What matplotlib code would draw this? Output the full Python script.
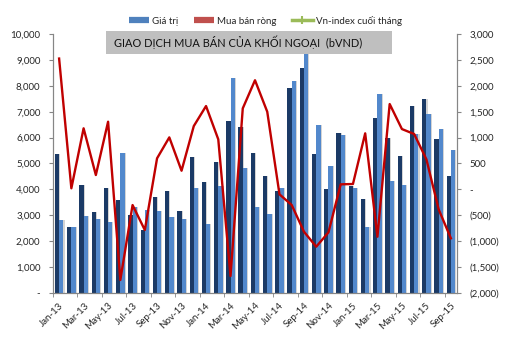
import matplotlib
matplotlib.use('Agg')
import matplotlib.pyplot as plt
import numpy as np
from matplotlib.lines import Line2D
from matplotlib.patches import Rectangle

plt.rcParams['font.family'] = ['Lato', 'Noto Sans', 'DejaVu Sans']

months = ['Jan-13', 'Feb-13', 'Mar-13', 'Apr-13', 'May-13', 'Jun-13', 'Jul-13', 'Aug-13',
          'Sep-13', 'Oct-13', 'Nov-13', 'Dec-13', 'Jan-14', 'Feb-14', 'Mar-14', 'Apr-14',
          'May-14', 'Jun-14', 'Jul-14', 'Aug-14', 'Sep-14', 'Oct-14', 'Nov-14', 'Dec-14',
          'Jan-15', 'Feb-15', 'Mar-15', 'Apr-15', 'May-15', 'Jun-15', 'Jul-15', 'Aug-15',
          'Sep-15']

# buy / sell value (left axis, bVND)
buy = [5370, 2555, 4156, 3111, 4040, 3587, 3007, 2426,
       3715, 3936, 3162, 5252, 4272, 5070, 6657, 6400,
       5406, 4528, 3936, 7910, 8684, 5368, 4013, 6168,
       4110, 3614, 6761, 5998, 5290, 7213, 7496, 5948,
       4516]
sell = [2813, 2555, 2968, 2852, 2724, 5394, 3305, 3200,
        3165, 2942, 2839, 4052, 2658, 4142, 8297, 4838,
        3328, 3034, 4052, 8193, 9290, 6478, 4903, 6103,
        4045, 2555, 7690, 4334, 4168, 6142, 6916, 6335,
        5522]
# net buying (right axis)
net = [2530, 20, 1180, 277, 1308, -1754, -304, -787,
       600, 1005, 360, 1224, 1611, 967, -1677, 1566,
       2110, 1501, -97, -304, -820, -1110, -832, 97,
       103, 1083, -917, 1650, 1166, 1070, 580, -387,
       -948]

x = np.arange(len(months))
w = 0.35

fig = plt.figure(figsize=(5.15, 3.46), dpi=100)
ax = fig.add_axes([0.1029, 0.154, 0.7845, 0.747])
ax2 = ax.twinx()

# shadows
ax.bar(x - w / 2 + 0.09, buy, w, color='#D4D4D4', zorder=1)
ax.bar(x + w / 2 + 0.09, sell, w, color='#D4D4D4', zorder=1)
ax.bar(x - w / 2, buy, w, color='#1B3A66', zorder=2)
ax.bar(x + w / 2, sell, w, color='#5288CC', zorder=2)

ax2.plot(x, net, color='#C00000', lw=1.7, zorder=3)

ax.set_xlim(-0.5, len(months) - 0.5)
ax.set_ylim(0, 10000)
ax2.set_ylim(-2000, 3000)

lt = np.arange(0, 10001, 1000)
ax.set_yticks(lt)
ax.set_yticklabels(['-' if v == 0 else f'{v:,}' for v in lt])
rt = np.arange(-2000, 3001, 500)
ax2.set_yticks(rt)
ax2.set_yticklabels(['-' if v == 0 else (f'({-v:,})' if v < 0 else f'{v:,}') for v in rt])

ax.set_xticks(x[::2])
ax.set_xticklabels(months[::2], rotation=45, ha='right', rotation_mode='anchor')
ax.set_xticks(np.arange(-0.5, len(months), 2), minor=True)
ax.tick_params(axis='x', which='major', length=0, pad=6)
ax.tick_params(axis='x', which='minor', length=3, color='#868686')

for a in (ax, ax2):
    a.tick_params(axis='y', length=3, color='#868686', labelsize=7, labelcolor='#262626')
    a.tick_params(axis='x', labelsize=7, labelcolor='#262626')
    for s in a.spines.values():
        s.set_color('#868686')
    a.spines['top'].set_visible(False)
ax.tick_params(axis='y', pad=6)
ax2.tick_params(axis='y', pad=6)

ax.set_zorder(ax2.get_zorder() - 1)
ax2.patch.set_visible(False)

# title box
fig.patches.append(Rectangle((0.2058, 0.844), 0.555, 0.0665, transform=fig.transFigure,
                             facecolor='#BFBFBF', edgecolor='none', zorder=5))
fig.text(0.2214, 0.877, 'GIAO DỊCH MUA BÁN CỦA KHỐI NGOẠI  (bVND)', ha='left', va='center',
         fontsize=7.9, color='#111111', zorder=6)

handles = [Line2D([], [], color='#4F81BD', lw=4.5, solid_capstyle='butt'),
           Line2D([], [], color='#C0504D', lw=4.5, solid_capstyle='butt'),
           Line2D([], [], color='#9BBB59', lw=2.5, marker='+', markersize=6,
                  markeredgewidth=1.5)]
fig.legend(handles, ['Giá trị', 'Mua bán ròng', 'Vn-index cuối tháng'], ncol=3,
           loc='center', bbox_to_anchor=(0.515, 0.94), frameon=False, fontsize=7,
           handlelength=2.1, handletextpad=0.3, columnspacing=1.6, labelcolor='#262626')

fig.savefig('out.png', dpi=100)
